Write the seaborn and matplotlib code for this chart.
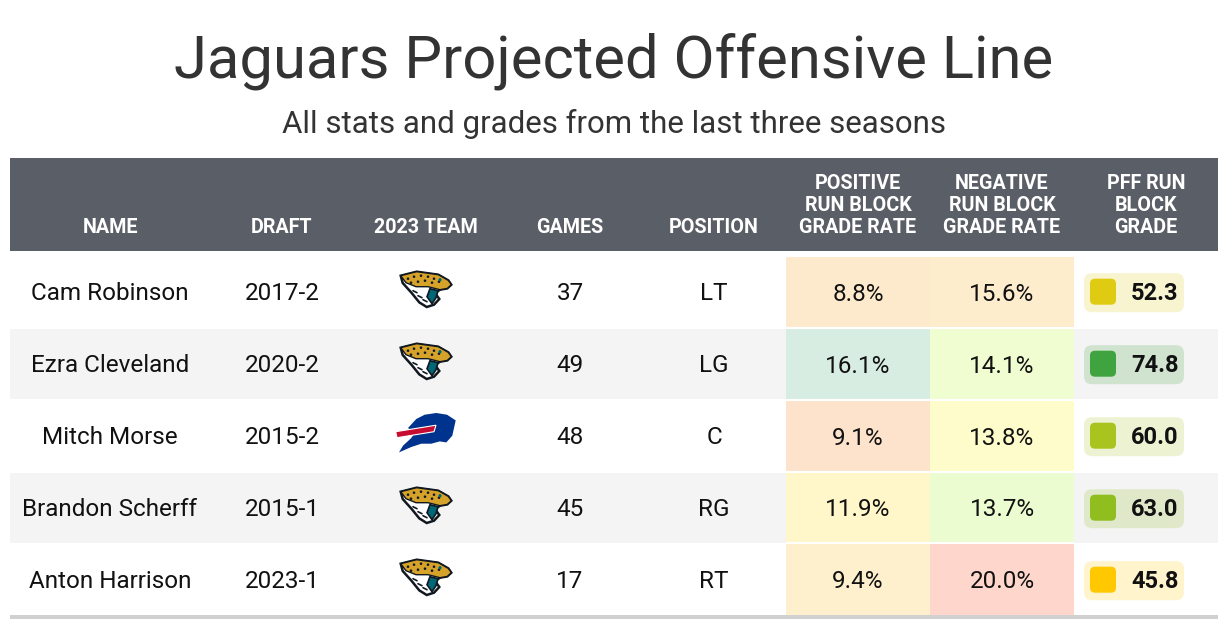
import numpy as np
import seaborn as sns
import matplotlib.pyplot as plt
from matplotlib.colors import ListedColormap
from matplotlib.patches import Rectangle, FancyBboxPatch, Polygon, Circle

# table content
names = ['Cam Robinson', 'Ezra Cleveland', 'Mitch Morse', 'Brandon Scherff', 'Anton Harrison']
drafts = ['2017-2', '2020-2', '2015-2', '2015-1', '2023-1']
teams = ['JAX', 'JAX', 'BUF', 'JAX', 'JAX']
games = [37, 49, 48, 45, 17]
positions = ['LT', 'LG', 'C', 'RG', 'RT']
pos_rate = [8.8, 16.1, 9.1, 11.9, 9.4]
neg_rate = [15.6, 14.1, 13.8, 13.7, 20.0]
run_grade = [52.3, 74.8, 60.0, 63.0, 45.8]

headers = ['NAME', 'DRAFT', '2023 TEAM', 'GAMES', 'POSITION',
           'POSITIVE\nRUN BLOCK\nGRADE RATE', 'NEGATIVE\nRUN BLOCK\nGRADE RATE',
           'PFF RUN\nBLOCK\nGRADE']

# cell shading
pos_colors = ['#fdeacd', '#d8ede2', '#fde3cc', '#fff6c9', '#fef0cc']
neg_colors = ['#fdedcd', '#f0fdd1', '#fffccc', '#ebfcd0', '#fed6cc']
grade_colors = ['#dfcc12', '#3fa33f', '#a9c41e', '#8fbe1e', '#ffc800']

sns.set_theme(style='white')
plt.rcParams['font.family'] = ['Roboto', 'DejaVu Sans']

W, H = 1228, 626
fig = plt.figure(figsize=(W / 100, H / 100), dpi=100)
ax = fig.add_axes([0, 0, 1, 1])
ax.set_xlim(0, W)
ax.set_ylim(H, 0)
ax.axis('off')

col_x = [110, 282, 426, 570, 714, 858, 1002, 1146]
left, right = 10, 1218
top0, pitch, row_h = 256.7, 72, 70
ink = '#111111'
body_fs = 17.5

ax.text(614, 77.5, 'Jaguars Projected Offensive Line', ha='center', va='baseline',
        fontsize=43, color='#333333')
ax.text(614, 133, 'All stats and grades from the last three seasons', ha='center',
        va='baseline', fontsize=22.5, color='#333333')

# header band
ax.add_patch(Rectangle((left, 158), right - left, 92.7, color='#5a5e66', lw=0))
for x, h in zip(col_x, headers):
    lines = h.split('\n')
    for k, line in enumerate(reversed(lines)):
        ax.text(x, 232.7 - 21.7 * k, line, ha='center', va='baseline',
                fontsize=14.2, fontweight='bold', color='white')


def jaguar(cx, cy):
    head = [(-25.3, -14), (-9.3, -18), (12.3, -15), (22.3, -9.3), (25.3, -5), (21.3, -1.3),
            (14, 0), (9, 3.3), (13.3, 9.3), (8, 15), (0.7, 17.3), (-6.7, 12.7),
            (-14.3, 3.3), (-23.3, -6.7)]
    ax.add_patch(Polygon([(cx + a, cy + b) for a, b in head], closed=True,
                         fc='white', ec='#101820', lw=1.8, zorder=3))
    gold = [(-25.3, -14), (-9.3, -18), (12.3, -15), (22.3, -9.3), (25.3, -5), (21.3, -1.3),
            (14, 0), (2, -3), (-10, -3), (-20, -7)]
    ax.add_patch(Polygon([(cx + a, cy + b) for a, b in gold], closed=True,
                         fc='#d7a22a', ec='#101820', lw=1.0, zorder=3))
    mouth = [(4, -1), (12, 1), (10, 8), (6, 14), (1, 7)]
    ax.add_patch(Polygon([(cx + a, cy + b) for a, b in mouth], closed=True,
                         fc='#006778', ec='#101820', lw=1.2, zorder=3))
    for a, b in [(-10, 2), (-5, 7), (0, 11)]:
        ax.plot([cx + a - 3, cx + a + 1], [cy + b - 1, cy + b + 1], color='#101820',
                lw=1.2, zorder=4)
    for a, b in [(-18, -11), (-12, -13), (-5, -14), (2, -13), (8, -11), (-15, -7),
                 (-8, -8), (-1, -9), (6, -7), (13, -8)]:
        ax.add_patch(Circle((cx + a, cy + b), 1.3, fc='#101820', lw=0, zorder=4))
    ax.add_patch(Circle((cx + 14, cy - 10), 1.6, fc='#006778', lw=0, zorder=4))


def bills(cx, cy):
    body = [(-18, -4.7), (-9.7, -13.7), (-1.3, -18), (10.3, -19.7), (21, -18), (29.7, -12.3),
            (28, -4.7), (26.3, 3), (20.3, 9.7), (13.7, 8.7), (5.3, 11), (-4.7, 11),
            (-14.7, 14.3), (-27, 19.7), (-23, 13), (-14.7, 5.3), (-11.3, 0.3)]
    ax.add_patch(Polygon([(cx + a, cy + b) for a, b in body], closed=True,
                         fc='#00338d', lw=0, zorder=3))
    stripe = [(-30.3, -1), (10, -7.5), (8, -1), (-29, 5)]
    ax.add_patch(Polygon([(cx + a, cy + b) for a, b in stripe], closed=True,
                         fc='#c60c30', ec='white', lw=0.8, zorder=4))


for i in range(len(names)):
    top = top0 + pitch * i
    mid = top + row_h / 2
    if i % 2:
        ax.add_patch(Rectangle((left, top), right - left, row_h, color='#f4f4f4', lw=0, zorder=0))
    base = mid + 8.5
    for x, s in zip(col_x[:5], [names[i], drafts[i], None, str(games[i]), positions[i]]):
        if s is not None:
            ax.text(x, base, s, ha='center', va='baseline', fontsize=body_fs, color=ink)
    if teams[i] == 'JAX':
        jaguar(col_x[2], mid - 2)
    else:
        bills(col_x[2], mid - 3)
    # grade pill
    c = grade_colors[i]
    ax.add_patch(FancyBboxPatch((1084 + 8, mid + 1 - 19.5 + 8), 100 - 16, 39 - 16,
                                boxstyle='round,pad=8', fc=c, alpha=0.2, lw=0, zorder=2))
    ax.add_patch(FancyBboxPatch((1090 + 5, mid - 13 + 5), 26 - 10, 26 - 10,
                                boxstyle='round,pad=5', fc=c, lw=0, zorder=3))
    ax.text(1178.5, base, f'{run_grade[i]:.1f}', ha='right', va='baseline',
            fontsize=17, fontweight='bold', color=ink, zorder=4)

# rate columns as a seaborn heatmap
rate_colors = pos_colors + neg_colors
n = len(names)
idx = np.column_stack([np.arange(n), np.arange(n) + n])
labels = np.column_stack([[f'{v:.1f}%' for v in pos_rate], [f'{v:.1f}%' for v in neg_rate]])
bottom = top0 + pitch * (n - 1) + row_h
hax = fig.add_axes([786 / W, 1 - bottom / H, 288 / W, (bottom - top0) / H])
sns.heatmap(idx, cmap=ListedColormap(rate_colors), vmin=-0.5, vmax=len(rate_colors) - 0.5,
            annot=labels, fmt='', cbar=False, ax=hax, xticklabels=False, yticklabels=False,
            annot_kws={'fontsize': body_fs, 'color': ink, 'va': 'center_baseline'})
for k in range(1, n):
    hax.axhline(k, color='white', lw=1.5)

# bottom rule
ax.add_patch(Rectangle((left, 615), right - left, 4, color='#d0d0d0', lw=0))

fig.savefig('out.png', dpi=100)
